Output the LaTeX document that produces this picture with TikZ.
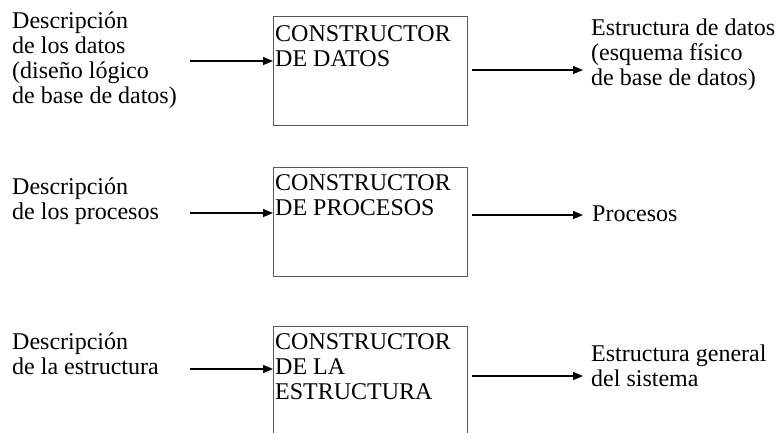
\documentclass[tikz,border=0pt]{standalone}
\usepackage{fontspec}
\setmainfont{Liberation Serif}
\usetikzlibrary{arrows.meta}

\begin{document}
\begin{tikzpicture}
[
    x=1pt, y=-1pt,
    texto/.style={anchor=north west, inner sep=0pt, align=left, font=\fontsize{24}{25}\selectfont},
    caja/.style={draw=black!65, line width=0.9pt, anchor=north west, minimum width=194pt, minimum height=109pt, inner sep=0pt},
    flecha/.style={-{Triangle[length=10pt,width=8pt]}, line width=1.3pt},
]
\useasboundingbox (0,0) rectangle (778,432);

\node [caja] (con1) at (273,16) {};
\node [caja] (con2) at (273,167) {};
\node [caja] (con3) at (273,326) {};

\node [texto] (dsc1) at (12,10.5)
{\strut Descripción\\de los datos\\(diseño lógico\\de base de datos)};
\node [texto] (dsc2) at (12,176.5)
{\strut Descripción\\de los procesos};
\node [texto] (dsc3) at (12,331.5)
{\strut Descripción\\de la estructura};

\node [texto] (tit1) at (275,23.5)
{\strut CONSTRUCTOR\\DE DATOS};
\node [texto] (tit2) at (275,172.5)
{\strut CONSTRUCTOR\\DE PROCESOS};
\node [texto] (tit3) at (275,331.5)
{\strut CONSTRUCTOR\\DE LA\\ESTRUCTURA};

\node [texto] (sal1) at (591,17.5)
{\strut Estructura de datos\\(esquema físico\\de base de datos)};
\node [texto] (sal2) at (592,203.5)
{\strut Procesos};
\node [texto] (sal3) at (591,343.5)
{\strut Estructura general\\del sistema};

\coordinate (e1) at (190,61);
\coordinate (e2) at (190,213);
\coordinate (e3) at (190,369);
\coordinate (s1) at (472,70);
\coordinate (s2) at (472,215);
\coordinate (s3) at (472,376);

\draw [flecha] (e1) -- (e1 -| con1.west);
\draw [flecha] (e2) -- (e2 -| con2.west);
\draw [flecha] (e3) -- (e3 -| con3.west);
\draw [flecha, shorten >=8pt] (s1) -- (s1 -| sal1.west);
\draw [flecha, shorten >=9pt] (s2) -- (s2 -| sal2.west);
\draw [flecha, shorten >=8pt] (s3) -- (s3 -| sal3.west);
\end{tikzpicture}
\end{document}
